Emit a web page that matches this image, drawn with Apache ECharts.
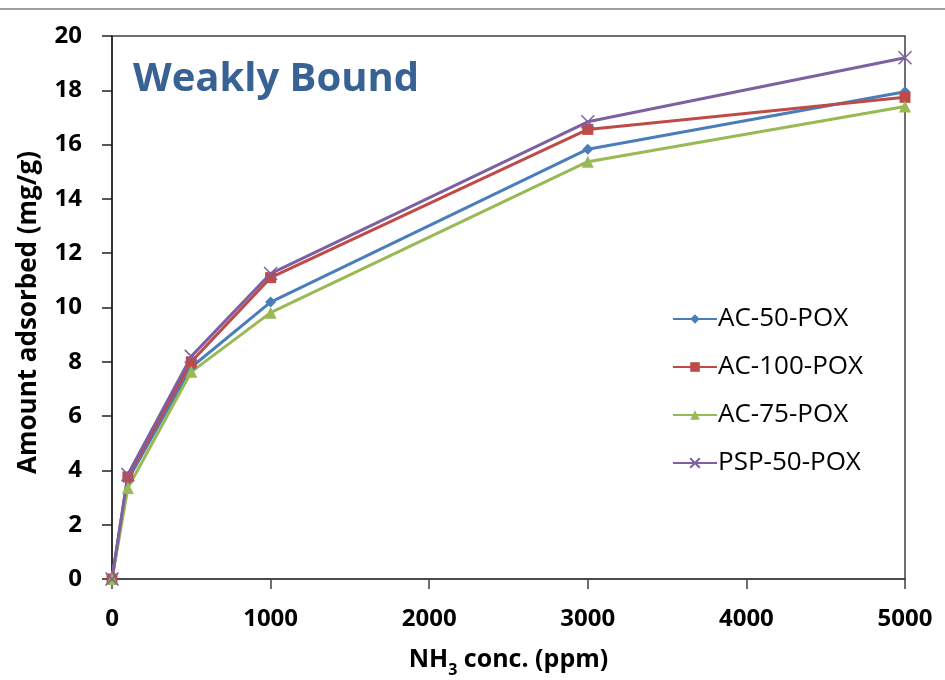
<!DOCTYPE html>
<html>
<head>
<meta charset="utf-8">
<script src="https://cdn.jsdelivr.net/npm/echarts@6/dist/echarts.min.js"></script>
<style>html,body{margin:0;padding:0;background:#fff;}#c{width:945px;height:680px;}</style>
</head>
<body>
<div id="c"></div>
<script>
const xValues = [0, 100, 500, 1000, 3000, 5000];
const seriesNames = ['AC-50-POX', 'AC-100-POX', 'AC-75-POX', 'PSP-50-POX'];
const ac50 = [0, 3.65, 7.8, 10.2, 15.83, 17.95];
const ac100 = [0, 3.76, 8.0, 11.1, 16.56, 17.74];
const ac75 = [0, 3.35, 7.63, 9.81, 15.37, 17.4];
const psp50 = [0, 3.85, 8.2, 11.25, 16.84, 19.2];
const xTicks = [0, 1000, 2000, 3000, 4000, 5000];
const yTicks = [0, 2, 4, 6, 8, 10, 12, 14, 16, 18, 20];

const colors = ['#4A7EBB', '#BE4B48', '#98B954', '#7D60A0'];
const symbols = ['diamond', 'rect', 'triangle', 'path://M0,0L10,10M10,0L0,10'];
const sizes = [11, 11, 12, 13];
const allData = [ac50, ac100, ac75, psp50];
const FONT = 'Open Sans';

const chart = echarts.init(document.getElementById('c'), null, {renderer: 'canvas'});
chart.setOption({
  animation: false,
  backgroundColor: '#fff',
  title: {
    text: 'Weakly Bound',
    left: 128, top: 55,
    textStyle: {fontFamily: FONT, fontWeight: 'bold', fontSize: 40, color: '#386293'}
  },
  graphic: [{
    type: 'line', shape: {x1: 0, y1: 9, x2: 945, y2: 9},
    style: {stroke: '#a0a0a0', lineWidth: 2}
  }],
  legend: {
    orient: 'vertical', left: 667, top: 301,
    itemWidth: 44, itemHeight: 12, itemGap: 22,
    textStyle: {fontFamily: FONT, fontSize: 26, color: '#000', padding: [0, 0, 0, -4]},
    data: seriesNames
  },
  grid: {left: 112, right: 40, top: 36, bottom: 101, containLabel: false, outerBoundsMode: 'none',
    show: true, borderColor: '#404040', borderWidth: 1.5, backgroundColor: 'transparent'},
  xAxis: {
    type: 'value', min: 0, max: 5000, interval: 1000,
    name: '{a|NH}{s|3}{a| conc. (ppm)}',
    nameLocation: 'middle', nameGap: 68,
    nameTextStyle: {
      rich: {
        a: {fontFamily: FONT, fontWeight: 'bold', fontSize: 25, color: '#000'},
        s: {fontFamily: FONT, fontWeight: 'bold', fontSize: 16, color: '#000', verticalAlign: 'bottom', padding: [0, 0, -6, 0]}
      }
    },
    axisLine: {show: true, lineStyle: {color: '#404040', width: 1.5}},
    axisTick: {show: true, inside: false, length: 10, lineStyle: {color: '#404040', width: 1.5}},
    axisLabel: {fontFamily: FONT, fontWeight: 'bold', fontSize: 24, color: '#000', margin: 28,
      formatter: v => xTicks.includes(v) ? String(v) : ''},
    splitLine: {show: false}
  },
  yAxis: {
    type: 'value', min: 0, max: 20, interval: 2,
    name: 'Amount adsorbed (mg/g)',
    nameLocation: 'middle', nameGap: 70,
    nameTextStyle: {fontFamily: FONT, fontWeight: 'bold', fontSize: 26, color: '#000', padding: [0, 10, 0, 0]},
    axisLine: {show: true, lineStyle: {color: '#202020', width: 1.5}},
    axisTick: {show: true, inside: false, length: 10, lineStyle: {color: '#202020', width: 1.5}},
    axisLabel: {fontFamily: FONT, fontWeight: 'bold', fontSize: 24, color: '#000', margin: 30,
      formatter: v => yTicks.includes(v) ? String(v) : ''},
    splitLine: {show: false}
  },
  series: seriesNames.map((n, i) => ({
    name: n, type: 'line',
    data: xValues.map((x, j) => [x, allData[i][j]]),
    symbol: symbols[i], symbolSize: sizes[i],
    showAllSymbol: true,
    lineStyle: {color: colors[i], width: 3},
    itemStyle: i === 3 ? {color: colors[i], borderColor: colors[i], borderWidth: 1.5} : {color: colors[i], borderWidth: 0},
    emphasis: {disabled: true}
  }))
});
</script>
</body>
</html>
